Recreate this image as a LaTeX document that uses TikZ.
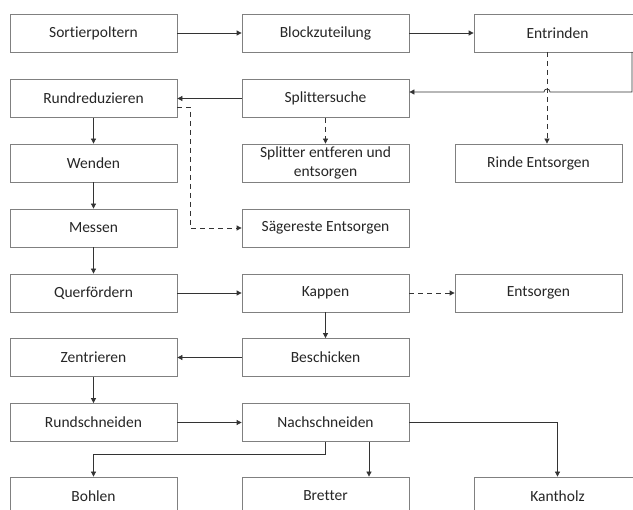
\documentclass[tikz,border=0pt]{standalone}
\usepackage{fontspec}
\setmainfont{Carlito}[Ligatures=NoCommon]
\usetikzlibrary{arrows.meta}

\tikzset{
  box/.style={draw=black!50,line width=0.8pt,minimum width=167pt,minimum height=38pt,inner sep=0pt,
    text=black!85,font=\fontsize{15.5}{19}\selectfont,align=center},
  flow/.style={draw=black!80,line width=0.8pt,-{Triangle[length=5pt,width=5pt]}},
  waste/.style={flow,dash pattern=on 5pt off 4pt}
}

\begin{document}
\begin{tikzpicture}[x=1pt,y=-1pt]
\useasboundingbox[fill=white] (0,0) rectangle (633,510);
\node[box] (sort) at (93.5,33) {Sortierpoltern};
\node[box] (block) at (325.5,33) {Blockzuteilung};
\node[box] (entr) at (557.5,33) {Entrinden};
\node[box] (rundred) at (93.5,98.5) {Rundreduzieren};
\node[box] (splitsuch) at (325.5,98.5) {Splittersuche};
\node[box] (wenden) at (93.5,163) {Wenden};
\node[box] (splitent) at (325.5,163) {Splitter entferen und\\entsorgen};
\node[box] (rinde) at (538.5,163) {Rinde Entsorgen};
\node[box] (messen) at (93.5,228) {Messen};
\node[box] (saege) at (325.5,228) {Sägereste Entsorgen};
\node[box] (quer) at (93.5,293) {Querfördern};
\node[box] (kappen) at (325.5,293) {Kappen};
\node[box] (entsorg) at (538.5,293) {Entsorgen};
\node[box] (zentr) at (93.5,357.5) {Zentrieren};
\node[box] (besch) at (325.5,357.5) {Beschicken};
\node[box] (rundschn) at (93.5,422.5) {Rundschneiden};
\node[box] (nachschn) at (325.5,422.5) {Nachschneiden};
\node[box] (bohlen) at (93.5,496) {Bohlen};
\node[box] (bretter) at (325.5,496) {Bretter};
\node[box] (kant) at (557.5,496) {Kantholz};

\coordinate (entrR) at (632,52);
\coordinate (entrK) at (632,92);
\coordinate (entrD) at (547,52);
\coordinate (nachB) at ([xshift=43.5pt]nachschn.south);

\draw[flow] (sort) -- (block);
\draw[flow] (block) -- (entr);
\draw[flow] (entrR) -- (entrK) -- (550,92) .. controls (550,88) and (544,88) .. (544,92) -- (splitsuch.east |- entrK);
\draw[waste] (entrD) -- (entrD |- rinde.north);
\draw[flow] (splitsuch) -- (rundred);
\draw[waste] (splitsuch) -- (splitent);
\draw[waste] ([yshift=-8.5pt]rundred.east) -- ++(13,0) |- (saege);
\draw[flow] (rundred) -- (wenden);
\draw[flow] (wenden) -- (messen);
\draw[flow] (messen) -- (quer);
\draw[flow] (quer) -- (kappen);
\draw[waste] (kappen) -- (entsorg);
\draw[flow] (kappen) -- (besch);
\draw[flow] (besch) -- (zentr);
\draw[flow] (zentr) -- (rundschn);
\draw[flow] (rundschn) -- (nachschn);
\draw[flow] (nachschn.south) -- ++(0,13) -| (bohlen.north);
\draw[flow] (nachB) -- (nachB |- bretter.north);
\draw[flow] (nachschn) -| (kant);
\end{tikzpicture}
\end{document}
